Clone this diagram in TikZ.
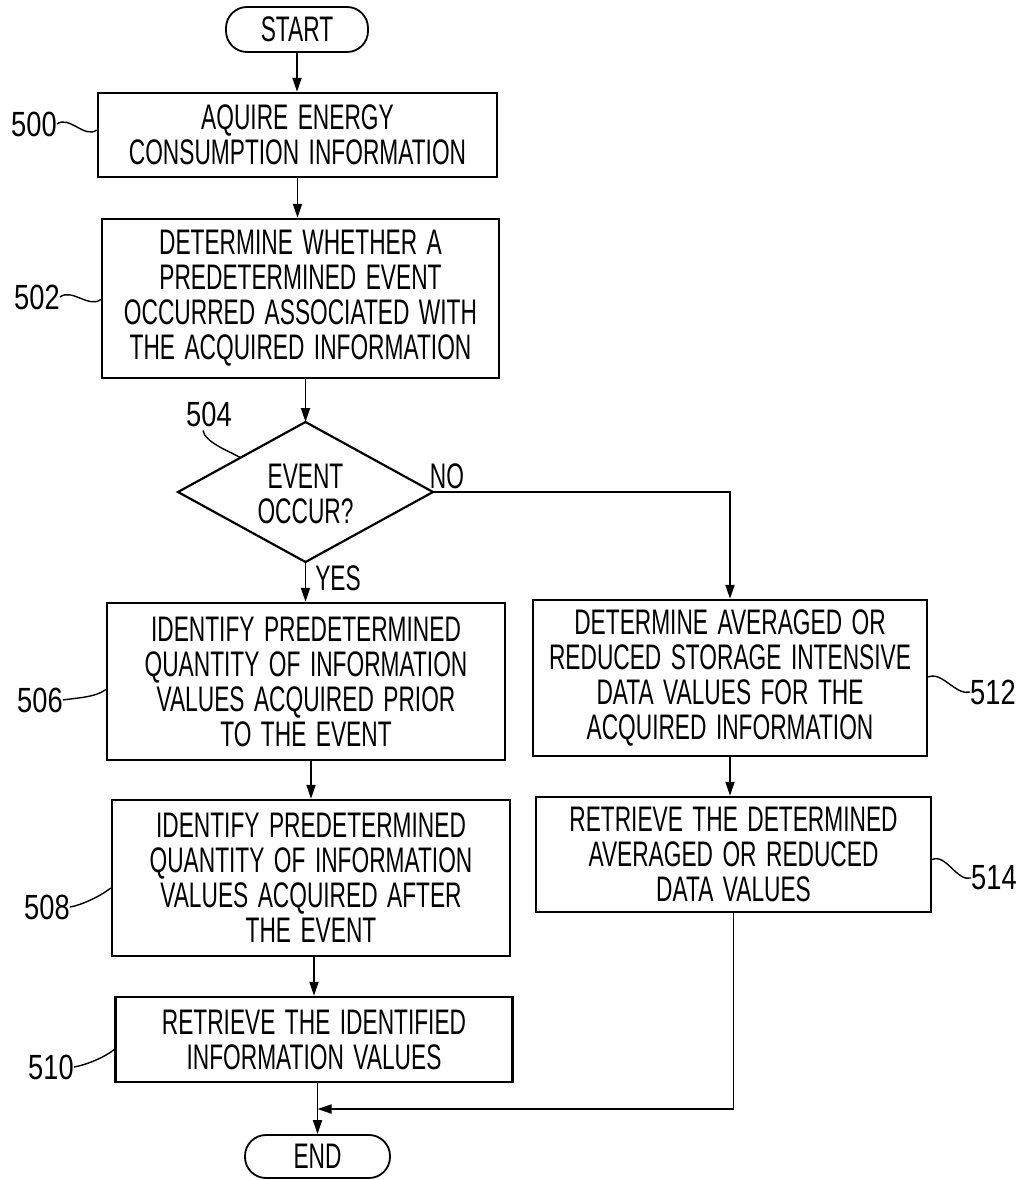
\documentclass[tikz,border=0pt]{standalone}
\usepackage{fontspec}
\setmainfont{Liberation Sans}[FakeStretch=0.64, WordSpace=1.5]
\newfontfamily\labfont{Liberation Sans}[FakeStretch=0.78]
\usetikzlibrary{arrows.meta,calc}
\begin{document}
\begin{tikzpicture}[x=1pt,y=-1pt,
  every node/.style={inner sep=0pt, font=\fontsize{35.5}{35}\selectfont},
  box/.style={draw, line width=2.4pt, align=center},
  term/.style={draw, line width=1.8pt, rounded corners=21pt, align=center},
  arr/.style={line width=1.8pt, -{Triangle[length=14pt,width=9pt]}},
  tag/.style={font=\labfont\fontsize{35}{35}\selectfont},
  sq/.style={line width=1.4pt}]
\useasboundingbox (0,0) rectangle (1021,1180);

% terminals and boxes
\node[term, minimum width=142pt, minimum height=45pt] (start) at (297,29.5) {START};
\node[box, minimum width=399pt, minimum height=84pt] (b500) at (297.5,135) {AQUIRE ENERGY\\CONSUMPTION INFORMATION};
\node[box, minimum width=397pt, minimum height=159pt] (b502) at (300.5,298.5) {DETERMINE WHETHER A\\PREDETERMINED EVENT\\OCCURRED ASSOCIATED WITH\\THE ACQUIRED INFORMATION};

% decision diamond
\coordinate (dT) at (305.5,422);
\coordinate (dR) at (433,492);
\coordinate (dB) at (305.5,562);
\coordinate (dL) at (178,492);
\draw[line width=2.2pt, line join=miter] (dT) -- (dR) -- (dB) -- (dL) -- cycle;
\node[align=center] (dia) at (305.5,494) {EVENT\\OCCUR?};

\node[box, minimum width=398pt, minimum height=157pt] (b506) at (306,681.5) {IDENTIFY PREDETERMINED\\QUANTITY OF INFORMATION\\VALUES ACQUIRED PRIOR\\TO THE EVENT};
\node[box, minimum width=398pt, minimum height=156pt] (b508) at (311,878) {IDENTIFY PREDETERMINED\\QUANTITY OF INFORMATION\\VALUES ACQUIRED AFTER\\THE EVENT};
\node[box, minimum width=397pt, minimum height=85pt] (b510) at (314,1039.5) {RETRIEVE THE IDENTIFIED\\INFORMATION VALUES};
\node[box, minimum width=394pt, minimum height=156pt] (b512) at (730,678) {DETERMINE AVERAGED OR\\REDUCED STORAGE INTENSIVE\\DATA VALUES FOR THE\\ACQUIRED INFORMATION};
\node[box, minimum width=395pt, minimum height=115pt] (b514) at (733.5,854.5) {RETRIEVE THE DETERMINED\\AVERAGED OR REDUCED\\DATA VALUES};
\node[term, minimum width=145pt, minimum height=43pt] (end) at (317.5,1156.5) {END};

% connectors
\draw[arr] (start.south) -- (start.south |- b500.north);
\draw[arr] (b500.south) -- (b500.south |- b502.north);
\draw[arr] (dT |- b502.south) -- (dT);
\draw[arr] (dB) -- (dB |- b506.north);
\draw[arr] (b508.north |- b506.south) -- (b508.north);
\draw[arr] (b510.north |- b508.south) -- (b510.north);
\draw[arr] (end.north |- b510.south) -- (end.north);
\draw[arr] (dR) -| (b512.north);
\draw[arr] (b512.south) -- (b512.south |- b514.north);
\coordinate (mg) at (317.5,1109);
\draw[arr] (b514.south) |- (mg);

% branch labels
\node (no) at (447,476) {NO};
\node (yes) at (338,578) {YES};

% reference numerals
\node[tag] (l500) at (34,124) {500};
\draw[sq] (l500.east) .. controls +(12,-9) and +(-12,9) .. ($(b500.west)+(0,-5)$);
\node[tag] (l502) at (37,297) {502};
\draw[sq] (l502.east) .. controls +(12,-9) and +(-12,9) .. ($(b502.west)+(0,1)$);
\node[tag] (l504) at (209,414) {504};
\draw[sq] ($(l504.south)+(-6,4)$) .. controls +(2,12) and +(-10,-6) .. ($(dL)!0.49!(dT)$);
\node[tag] (l506) at (40,700) {506};
\draw[sq] (l506.east) .. controls +(12,-2) and +(-10,8) .. ($(b506.west)+(0,8)$);
\node[tag] (l508) at (47,907) {508};
\draw[sq] (l508.east) .. controls +(12,-2) and +(-10,8) .. ($(b508.west)+(0,10)$);
\node[tag] (l510) at (51,1067) {510};
\draw[sq] (l510.east) .. controls +(12,-2) and +(-10,8) .. ($(b510.west)+(0,10)$);
\node[tag] (l512) at (993,692) {512};
\draw[sq] ($(b512.east)+(0,-1)$) .. controls +(14,-6) and +(-14,4) .. (l512.west);
\node[tag] (l514) at (994,878) {514};
\draw[sq] ($(b514.east)+(0,5)$) .. controls +(14,-6) and +(-14,4) .. (l514.west);
\end{tikzpicture}
\end{document}
